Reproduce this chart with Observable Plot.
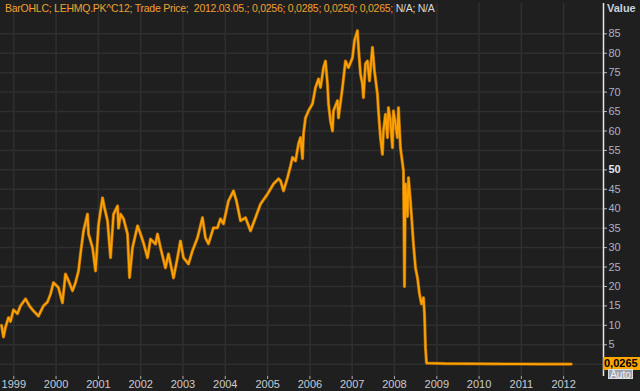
<!DOCTYPE html>
<html>
<head>
<meta charset="utf-8">
<script src="https://cdn.jsdelivr.net/npm/d3@7"></script>
<script src="https://cdn.jsdelivr.net/npm/@observablehq/plot@0.6"></script>
<style>
  html, body { margin: 0; padding: 0; background: #1f1f1f; }
  #wrap { position: relative; width: 640px; height: 391px; overflow: hidden; background: #1f1f1f; font-family: "Liberation Sans", "DejaVu Sans", sans-serif; }
  #title { position: absolute; left: 5px; top: 2px; font-size: 10.5px; color: #f0a030; white-space: pre; letter-spacing: -0.25px; }
  #title .na { color: #d8d8d8; }
  #vlabel { position: absolute; left: 607px; top: 2px; font-size: 11px; font-weight: bold; color: #c8d0dc; }
  #last { position: absolute; left: 603px; top: 357px; width: 37px; height: 13px; background: #ffa500; color: #000; font-size: 11px; font-weight: bold; line-height: 13px; text-align: left; padding-left: 1px; box-sizing: border-box; }
  #auto { position: absolute; left: 608px; top: 369px; width: 25px; height: 10px; background: #9aa2ac; color: #eef2f6; font-size: 10px; line-height: 10px; text-align: center; border: 1px solid #d8dde2; box-sizing: border-box; }
</style>
</head>
<body>
<div id="wrap">
  <div id="chart"></div>
  <div id="title"></div>
  <div id="vlabel">Value</div>
  <div id="last"></div>
  <div id="auto">Auto</div>
</div>
<script>
// ---- data ----
const titleMain = "BarOHLC; LEHMQ.PK^C12; Trade Price;  2012.03.05.; 0,0256; 0,0285; 0,0250; 0,0265;";
const titleTail = " N/A; N/A";
const lastLabel = "0,0265";
const lastValue = 0.0265;

// decimal years
const times = [
  1998.709, 1998.757, 1998.804, 1998.875, 1998.922, 1998.993, 1999.087, 1999.158, 1999.277, 1999.371,
  1999.466, 1999.584, 1999.702, 1999.797, 1999.868, 1999.939, 2000.057, 2000.151, 2000.222, 2000.293,
  2000.388, 2000.459, 2000.530, 2000.577, 2000.648, 2000.742, 2000.766, 2000.861, 2000.932, 2001.003,
  2001.097, 2001.144, 2001.215, 2001.286, 2001.357, 2001.452, 2001.475, 2001.523, 2001.594, 2001.688,
  2001.736, 2001.806, 2001.925, 2001.996, 2002.066, 2002.161, 2002.232, 2002.350, 2002.397, 2002.468,
  2002.586, 2002.657, 2002.776, 2002.870, 2002.941, 2003.012, 2003.130, 2003.225, 2003.343, 2003.461,
  2003.532, 2003.603, 2003.721, 2003.816, 2003.887, 2003.958, 2004.076, 2004.194, 2004.265, 2004.360,
  2004.478, 2004.596, 2004.714, 2004.832, 2004.998, 2005.140, 2005.258, 2005.305, 2005.376, 2005.471,
  2005.542, 2005.589, 2005.660, 2005.731, 2005.778, 2005.825, 2005.849, 2005.896, 2005.967, 2006.062,
  2006.133, 2006.204, 2006.251, 2006.322, 2006.369, 2006.416, 2006.440, 2006.487, 2006.535, 2006.558,
  2006.653, 2006.676, 2006.771, 2006.842, 2006.913, 2007.007, 2007.054, 2007.125, 2007.149, 2007.196,
  2007.243, 2007.267, 2007.314, 2007.362, 2007.409, 2007.480, 2007.527, 2007.598, 2007.622, 2007.669,
  2007.716, 2007.740, 2007.787, 2007.834, 2007.858, 2007.905, 2007.953, 2007.976, 2008.071, 2008.095,
  2008.142, 2008.213, 2008.237, 2008.260, 2008.308, 2008.331, 2008.378, 2008.449, 2008.497, 2008.544,
  2008.591, 2008.638, 2008.686, 2008.709, 2008.733, 2008.757, 2009.200, 2009.700, 2010.300, 2010.900,
  2011.500, 2012.180
];
const prices = [
  10.0, 7.0, 9.5, 12.0, 11.0, 14.0, 13.0, 15.0, 16.8, 15.0,
  13.7, 12.4, 15.0, 16.0, 18.0, 21.0, 19.7, 15.8, 23.2, 21.5,
  18.9, 21.0, 24.0, 28.4, 34.3, 38.6, 33.5, 30.0, 24.0, 36.0,
  42.8, 40.2, 36.9, 27.4, 38.6, 40.7, 35.0, 38.6, 37.4, 33.5,
  22.3, 30.0, 35.6, 33.5, 31.2, 27.4, 32.2, 30.9, 33.5, 30.0,
  24.8, 28.4, 22.2, 27.4, 31.7, 27.4, 25.8, 29.2, 32.5, 37.7,
  32.5, 31.0, 35.1, 35.1, 37.4, 36.1, 42.0, 44.6, 42.0, 36.9,
  37.7, 34.3, 37.7, 41.2, 43.8, 46.4, 47.7, 47.2, 44.6, 48.0,
  51.0, 53.2, 52.3, 56.7, 58.3, 52.9, 59.3, 63.4, 65.2, 67.0,
  71.2, 73.4, 71.2, 76.3, 78.0, 72.1, 67.0, 62.6, 60.0, 65.2,
  67.8, 63.4, 71.2, 78.0, 76.3, 78.8, 83.2, 85.8, 81.5, 74.7,
  72.1, 68.6, 77.3, 78.0, 72.9, 81.5, 75.5, 69.5, 65.2, 58.3,
  54.0, 60.0, 64.3, 58.3, 66.0, 62.6, 55.7, 65.2, 58.3, 66.0,
  55.7, 49.8, 20.0, 46.4, 38.0, 48.0, 42.0, 30.9, 24.8, 22.2,
  18.1, 15.5, 17.1, 13.0, 4.2, 0.3, 0.15, 0.12, 0.08, 0.05,
  0.04, 0.03
];
const yearTicks = [1999, 2000, 2001, 2002, 2003, 2004, 2005, 2006, 2007, 2008, 2009, 2010, 2011, 2012];
const valueTicks = [5, 10, 15, 20, 25, 30, 35, 40, 45, 55, 60, 65, 70, 75, 80, 85];
const boldTicks = [50];
const gridValues = [0, 5, 10, 15, 20, 25, 30, 35, 40, 45, 50, 55, 60, 65, 70, 75, 80, 85];
const xStart = 1998.6856, xEnd = 2012.941;
const yMin = -3.16, yMax = 92.8;

// ---- helpers ----
function toDate(t) {
  const y = Math.floor(t);
  const a = Date.UTC(y, 0, 1), b = Date.UTC(y + 1, 0, 1);
  return new Date(a + (t - y) * (b - a));
}
const data = times.map((t, i) => ({date: toDate(t), value: prices[i]}));
const yearDates = yearTicks.map(y => new Date(Date.UTC(y, 0, 1)));

document.getElementById("title").innerHTML = titleMain + '<span class="na">' + titleTail + '</span>';
document.getElementById("last").textContent = lastLabel;

const chart = Plot.plot({
  width: 640,
  height: 391,
  marginTop: 3,
  marginBottom: 15,
  marginLeft: 0,
  marginRight: 37,
  style: {background: "#1f1f1f", fontFamily: "Liberation Sans, DejaVu Sans, sans-serif", fontSize: "11px"},
  x: {type: "utc", domain: [toDate(xStart), toDate(xEnd)]},
  y: {domain: [yMin, yMax]},
  marks: [
    Plot.gridX(yearDates, {stroke: "#2f2f2f", strokeOpacity: 1, strokeWidth: 1.5}),
    Plot.gridY(gridValues, {stroke: "#2f2f2f", strokeOpacity: 1, strokeWidth: 1.5}),
    Plot.axisX(yearDates, {tickFormat: d3.utcFormat("%Y"), tickSize: 3, tickPadding: 1, stroke: "#b0b0b0", fill: "#c8ccd2", label: null, fontSize: 11}),
    Plot.axisY(valueTicks, {anchor: "right", tickSize: 3, tickPadding: 2, stroke: "#b0b8c4", fill: "#a9b3c3", label: null, textAnchor: "start", fontSize: 11}),
    Plot.axisY(boldTicks, {anchor: "right", tickSize: 3, tickPadding: 2, stroke: "#b0b8c4", fill: "#dfe6f0", fontWeight: "bold", label: null, textAnchor: "start", fontSize: 11}),
    Plot.ruleX([toDate(xEnd)], {stroke: "#e6e6e6", strokeWidth: 1.5}),
    Plot.line(data, {x: "date", y: "value", stroke: "#a86a0c", strokeWidth: 3.2, curve: "linear"}),
    Plot.line(data, {x: "date", y: "value", stroke: "#ffa200", strokeWidth: 1.8, curve: "linear"})
  ]
});
document.getElementById("chart").appendChild(chart);
</script>
</body>
</html>
